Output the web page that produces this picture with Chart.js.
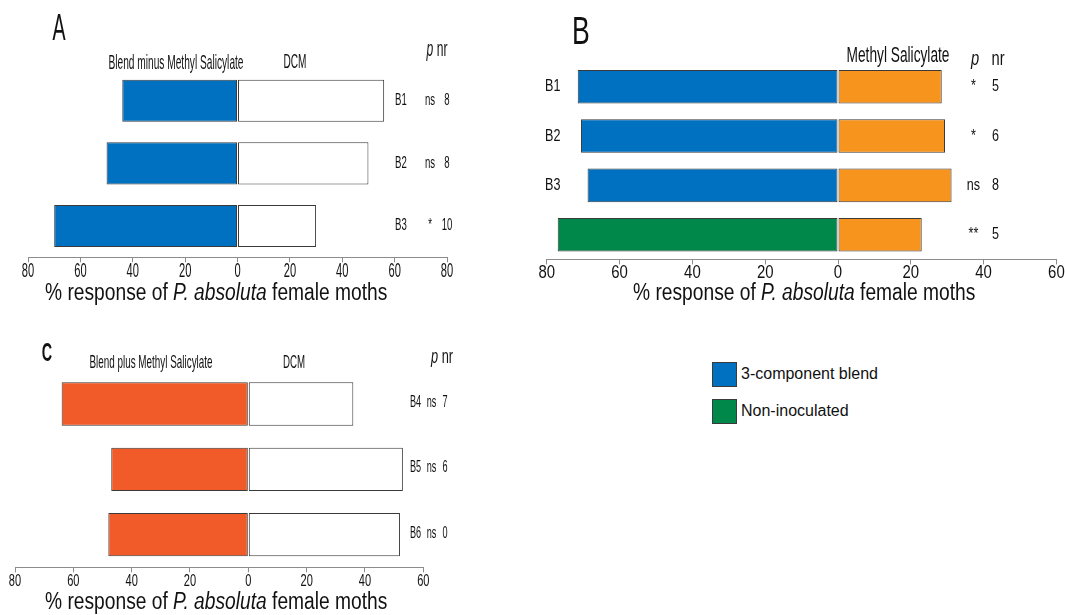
<!DOCTYPE html>
<html>
<head>
<meta charset="utf-8">
<title>Response of P. absoluta female moths</title>
<script src="https://cdn.jsdelivr.net/npm/chart.js@4.4.1/dist/chart.umd.min.js"></script>
<style>
  html, body { margin: 0; padding: 0; background: #fff; }
  body {
    width: 1065px; height: 615px; position: relative; overflow: hidden;
    font-family: "Liberation Sans", Arial, sans-serif; color: #111;
  }
  canvas { position: absolute; }
  .txt { position: absolute; white-space: nowrap; line-height: 1; }
  .axis-title {
    position: absolute; white-space: nowrap; font-size: 23px; line-height: 23px;
    transform: scaleX(0.835); transform-origin: left top;
  }
  .legend-item { position: absolute; left: 712px; display: flex; align-items: center; font-size: 16px; }
  .legend-item span.box { width: 25px; height: 25px; border: 1px solid #3a3a3a; box-sizing: border-box; margin-right: 4px; }
</style>
</head>
<body>

<canvas id="chartA" width="520" height="320" style="left:0;top:0"></canvas>
<canvas id="chartB" width="545" height="320" style="left:520px;top:0"></canvas>
<canvas id="chartC" width="520" height="295" style="left:0;top:320px"></canvas>

<div class="axis-title" style="left:45px;top:280.5px">% response of <i>P. absoluta</i> female moths</div>
<div class="axis-title" style="left:633px;top:280.5px">% response of <i>P. absoluta</i> female moths</div>
<div class="axis-title" style="left:45px;top:589.5px">% response of <i>P. absoluta</i> female moths</div>

<script>
// colours
const BLUE = '#0070c0';
const GREEN = '#00874a';
const ORANGE = '#f7941e';
const RED = '#f15a29';
const WHITE = '#ffffff';
const AXIS = '#8c8c8c';
const EDGE = '#3a3a3a';

// A: blend minus methyl salicylate vs DCM
const aRows = ['B1', 'B2', 'B3'];
const aBlendMinus = [44, 50, 70];
const aDcm = [56, 50, 30];
const aSig = ['ns', 'ns', '*'];
const aNr = [8, 8, 10];
const aRange = [-80, 80];

// B: 3-component blend / non-inoculated vs methyl salicylate
const bRows = ['B1', 'B2', 'B3', ''];
const bBlend = [71.5, 70.6, 68.8, null];
const bNonInoc = [null, null, null, 77];
const bMeSa = [28.5, 29.4, 31.2, 23];
const bSig = ['*', '*', 'ns', '**'];
const bNr = [5, 6, 8, 5];
const bRange = [-80, 60];

// C: blend plus methyl salicylate vs DCM
const cRows = ['B4', 'B5', 'B6'];
const cBlendPlus = [64, 47, 48];
const cDcm = [36, 53, 52];
const cSig = ['ns', 'ns', 'ns'];
const cNr = [7, 6, 0];
const cRange = [-80, 60];

const legendNames = ['3-component blend', 'Non-inoculated'];
const legendColors = [BLUE, GREEN];

const neg = v => (v == null ? null : -v);

// condensed text: normal font squeezed horizontally
function squeezed(ctx, text, x, y, size, sx, align) {
  ctx.save();
  ctx.font = size + 'px "Liberation Sans", Arial, sans-serif';
  ctx.fillStyle = '#111';
  ctx.textAlign = align || 'center';
  ctx.textBaseline = 'middle';
  ctx.translate(x, y);
  ctx.scale(sx, 1);
  ctx.fillText(text, 0, 0);
  ctx.restore();
}

// x tick labels as absolute values, condensed
function tickLabels(o) {
  return {
    id: 'tickLabels',
    afterDraw(chart) {
      const s = chart.scales.x;
      s.ticks.forEach((t, i) => {
        squeezed(chart.ctx, String(Math.abs(t.value)), s.getPixelForTick(i), s.top + o.dy, o.size, o.sx);
      });
    }
  };
}

// row name, significance and nr next to each bar
function rowNotes(rows, sig, nr, o) {
  return {
    id: 'rowNotes',
    afterDraw(chart) {
      const y = chart.scales.y;
      rows.forEach((r, i) => {
        const py = y.getPixelForValue(i) + (o.dy || 0);
        if (r) squeezed(chart.ctx, r, o.xLabel, py, o.size, o.sx, 'left');
        squeezed(chart.ctx, sig[i], o.xSig, py, o.size, o.sx);
        squeezed(chart.ctx, String(nr[i]), o.xNr, py, o.size, o.sx);
      });
    }
  };
}

function drawPanel(id, rows, datasets, range, geo, plugins) {
  return new Chart(document.getElementById(id), {
    type: 'bar',
    data: { labels: rows, datasets: datasets },
    options: {
      indexAxis: 'y',
      responsive: false,
      animation: false,
      layout: { padding: geo.pad },
      plugins: { legend: { display: false }, tooltip: { enabled: false } },
      datasets: {
        bar: {
          categoryPercentage: 1,
          barPercentage: geo.bar,
          borderWidth: 1,
          borderColor: EDGE,
          borderSkipped: false
        }
      },
      scales: {
        x: {
          min: range[0], max: range[1], stacked: true,
          ticks: { stepSize: 20, display: false },
          grid: { drawOnChartArea: false, drawTicks: true, tickLength: 5, color: AXIS },
          border: { display: true, color: AXIS, width: 1 },
          afterFit: s => { s.height = 40; }
        },
        y: { display: false, stacked: true }
      }
    },
    plugins: plugins
  });
}

drawPanel('chartA', aRows, [
  { label: 'Blend minus Methyl Salicylate', data: aBlendMinus.map(neg), backgroundColor: BLUE },
  { label: 'DCM', data: aDcm, backgroundColor: WHITE }
], aRange,
  { pad: { top: 69.5, left: 28, right: 73, bottom: 22.7 }, bar: 0.672 },
  [tickLabels({ dy: 14.4, size: 19.5, sx: 0.57 }),
   rowNotes(aRows, aSig, aNr, { xLabel: 395, xSig: 430, xNr: 447, size: 16, sx: 0.6 })]);

drawPanel('chartB', bRows, [
  { label: '3-component blend', data: bBlend.map(neg), backgroundColor: BLUE },
  { label: 'Non-inoculated', data: bNonInoc.map(neg), backgroundColor: GREEN },
  { label: 'Methyl Salicylate', data: bMeSa, backgroundColor: ORANGE }
], bRange,
  { pad: { top: 62, left: 26.8, right: 8.6, bottom: 20.6 }, bar: 0.679 },
  [tickLabels({ dy: 13.6, size: 18, sx: 0.83 }),
   rowNotes(bRows, bSig, bNr, { xLabel: 25, xSig: 453.5, xNr: 475.5, size: 17, sx: 0.74 })]);

drawPanel('chartC', cRows, [
  { label: 'Blend plus Methyl Salicylate', data: cBlendPlus.map(neg), backgroundColor: RED },
  { label: 'DCM', data: cDcm, backgroundColor: WHITE }
], cRange,
  { pad: { top: 51.4, left: 15, right: 96.7, bottom: 7.7 }, bar: 0.665 },
  [tickLabels({ dy: 14.4, size: 17, sx: 0.65 }),
   rowNotes(cRows, cSig, cNr, { xLabel: 410, xSig: 431.5, xNr: 445, size: 16, sx: 0.57, dy: -1.5 })]);

// panel letters and column headers
function label(html, x, y, size, sx, weight) {
  const el = document.createElement('div');
  el.className = 'txt';
  el.innerHTML = html;
  el.style.left = x + 'px';
  el.style.top = y + 'px';
  el.style.fontSize = size + 'px';
  if (weight) el.style.fontWeight = weight;
  el.style.transform = 'translate(-50%, -50%) scaleX(' + sx + ')';
  document.body.appendChild(el);
}

label('A', 58.5, 27, 37, 0.53);
label('Blend minus Methyl Salicylate', 176, 60.5, 21, 0.484);
label('DCM', 294.5, 59.5, 21, 0.48);
label('<i>p</i> nr', 437, 49, 22, 0.55);

label('B', 581, 31, 38, 0.7);
label('Methyl Salicylate', 898, 55.3, 22, 0.624);
label('<i>p</i>', 974.5, 56.5, 21, 0.7);
label('nr', 997.5, 56.5, 21, 0.7);

label('C', 47, 352, 26, 0.55, 'bold');
label('Blend plus Methyl Salicylate', 150.5, 361.3, 19, 0.52);
label('DCM', 294, 361, 19, 0.51);
label('<i>p</i> nr', 442, 356, 20, 0.64);

// legend
legendNames.forEach((name, i) => {
  const item = document.createElement('div');
  item.className = 'legend-item';
  item.style.top = (361.5 + i * 37) + 'px';
  item.innerHTML = '<span class="box" style="background:' + legendColors[i] + '"></span>' + name;
  document.body.appendChild(item);
});
</script>
</body>
</html>
